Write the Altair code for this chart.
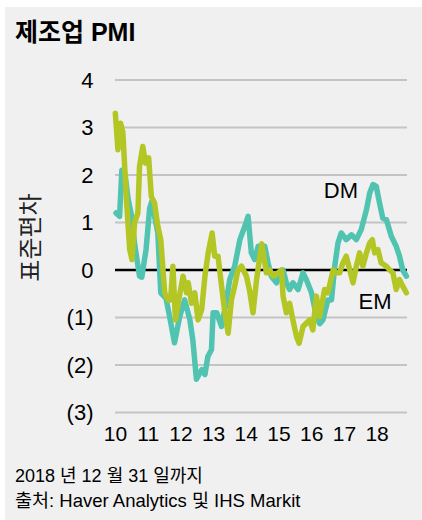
import altair as alt
import pandas as pd

# ---- data ----
dm_year = [2010.03, 2010.14, 2010.21, 2010.31, 2010.40, 2010.49, 2010.61, 2010.75, 2010.82, 2010.95,
           2011.06, 2011.13, 2011.22, 2011.31, 2011.40, 2011.56, 2011.67, 2011.82, 2011.98,
           2012.13, 2012.29, 2012.38, 2012.49, 2012.65, 2012.75, 2012.84, 2012.95,
           2013.00, 2013.11, 2013.26, 2013.41, 2013.51, 2013.66, 2013.82, 2013.97,
           2014.07, 2014.17, 2014.27, 2014.38, 2014.48, 2014.58, 2014.68, 2014.78, 2014.94,
           2015.14, 2015.24, 2015.34, 2015.44, 2015.60, 2015.75, 2015.85,
           2016.01, 2016.16, 2016.26, 2016.36, 2016.51, 2016.62, 2016.72, 2016.82, 2016.92,
           2017.07, 2017.23, 2017.38, 2017.53, 2017.69, 2017.79, 2017.89, 2017.99,
           2018.09, 2018.19, 2018.30, 2018.45, 2018.60, 2018.70, 2018.80, 2018.91]
dm_value = [1.20, 1.13, 2.10, 2.00, 1.50, 1.20, 0.50, -0.13, -0.15, 0.43,
            1.30, 1.45, 1.10, 0.78, -0.48, -0.60, -0.98, -1.53, -0.98,
            -0.63, -1.05, -1.47, -2.30, -2.10, -2.20, -1.82, -1.68,
            -0.90, -0.90, -1.19, -0.63, -0.20, 0.08, 0.64, 0.92,
            1.13, 0.36, 0.22, 0.50, 0.50, 0.50, 0.15, -0.13, -0.27,
            0.00, -0.27, -0.41, -0.27, -0.41, -0.06, -0.20,
            -0.48, -0.98, -1.13, -1.05, -0.63, -0.63, 0.08, 0.57, 0.78,
            0.64, 0.74, 0.64, 0.85, 1.27, 1.62, 1.80, 1.76,
            1.41, 1.09, 1.06, 0.71, 0.50, 0.29, 0.00, -0.13]

em_year = [2010.01, 2010.09, 2010.17, 2010.24, 2010.35, 2010.45, 2010.52, 2010.60, 2010.70, 2010.75,
           2010.85, 2010.93, 2011.03, 2011.11, 2011.21, 2011.31, 2011.40, 2011.52, 2011.62, 2011.70,
           2011.77, 2011.85, 2011.95, 2012.08, 2012.19, 2012.24, 2012.34, 2012.44, 2012.54, 2012.65,
           2012.75, 2012.85, 2012.97, 2013.05, 2013.15, 2013.26, 2013.36, 2013.46, 2013.56, 2013.66,
           2013.76, 2013.87, 2014.02, 2014.12, 2014.22, 2014.33, 2014.43, 2014.49, 2014.63, 2014.73,
           2014.83, 2014.99, 2015.09, 2015.14, 2015.24, 2015.34, 2015.44, 2015.55, 2015.63, 2015.75,
           2015.85, 2015.95, 2016.05, 2016.16, 2016.26, 2016.41, 2016.51, 2016.67, 2016.77, 2016.87,
           2016.97, 2017.07, 2017.18, 2017.28, 2017.38, 2017.48, 2017.58, 2017.69, 2017.79, 2017.87,
           2017.94, 2018.04, 2018.14, 2018.30, 2018.40, 2018.50, 2018.60, 2018.70, 2018.80, 2018.91]
em_value = [3.30, 2.53, 3.09, 2.90, 1.48, 0.43, 0.22, 1.00, 1.20, 2.18,
            2.60, 2.25, 2.36, 1.55, 1.41, 0.92, 0.64, -0.48, -0.63, -0.63,
            0.08, -1.05, -0.63, -0.13, -0.48, -0.27, -0.70, -0.48, -1.05, -0.84,
            -0.13, 0.36, 0.78, 0.29, 0.29, -0.34, -0.90, -1.33, -0.63, -0.34,
            0.00, 0.08, -0.13, -0.45, -0.90, -0.20, 0.29, 0.55, -0.06, 0.00,
            -0.13, -0.06, 0.00, -0.55, -0.90, -0.70, -1.05, -1.40, -1.54, -1.19,
            -1.12, -1.05, -1.26, -0.55, -0.98, -0.41, -0.48, 0.00, -0.06, -0.06,
            0.15, 0.29, 0.00, -0.27, 0.08, 0.36, 0.08, 0.36, 0.57, 0.64,
            0.36, 0.43, 0.15, 0.08, 0.00, -0.06, -0.41, -0.20, -0.34, -0.48]

series_names = ["DM", "EM"]
series_colors = ["#50c3b1", "#b3c624"]
x_ticks = [2010, 2011, 2012, 2013, 2014, 2015, 2016, 2017, 2018]
y_ticks = [-3, -2, -1, 0, 1, 2, 3, 4]
label_year = [2016.91, 2017.95]
label_value = [1.66, -0.68]

title_text = "제조업 PMI"
y_title = "표준편차"
footer_lines = ["2018 년 12 월 31 일까지", "출처: Haver Analytics 및 IHS Markit"]

# ---- layout ----
W, H = 292, 332.5
PAD_L, PAD_T = 115, 80
FONT = "Liberation Sans, Arial, Noto Sans CJK KR, sans-serif"
KFONT = "Noto Sans CJK KR, sans-serif"

rows = []
for name, xs, vs in [("DM", dm_year, dm_value), ("EM", em_year, em_value)]:
    for t, v in zip(xs, vs):
        rows.append({"series": name, "year": t, "value": v})
df = pd.DataFrame(rows)

x_scale = alt.Scale(domain=[2010, 2018.93], nice=False, zero=False)
y_scale = alt.Scale(domain=[-3, 4], nice=False, zero=False)

x_axis = alt.Axis(values=x_ticks, labelExpr="slice(toString(datum.value), 2)",
                  grid=False, domain=False, ticks=False, labelPadding=11,
                  labelFontSize=21, labelFont=FONT, labelColor="#000",
                  labelFlush=False, labelOverlap=False, labelBound=False,
                  title=None, zindex=1)
y_axis = alt.Axis(values=y_ticks,
                  labelExpr="datum.value < 0 ? '(' + abs(datum.value) + ')' : '' + datum.value",
                  grid=False, domain=False, ticks=False, labelOverlap=False,
                  labelPadding=22, labelFontSize=22, labelFont=FONT, labelColor="#000",
                  title=y_title, titleFont=KFONT, titleFontSize=24, titleFontWeight="normal",
                  titleColor="#222", titleAngle=270, titleX=-84, titleY=157,
                  titleAlign="center", titleBaseline="middle", zindex=1)

def X():
    return alt.X("year:Q", scale=x_scale, axis=x_axis)

def Y():
    return alt.Y("value:Q", scale=y_scale, axis=y_axis)

panel = alt.Chart(pd.DataFrame({"k": [0]})).mark_rect(color="#f0f0f0").encode(
    x=alt.value(5 - PAD_L), x2=alt.value(422 - PAD_L),
    y=alt.value(7 - PAD_T), y2=alt.value(520 - PAD_T))

grid = alt.Chart(pd.DataFrame({"value": [v for v in y_ticks if v != 0]})).mark_rule(
    color="#c4c4c4", strokeWidth=2).encode(y=Y())

zero = alt.Chart(pd.DataFrame({"value": [0]})).mark_rule(color="#000", strokeWidth=2.5).encode(y=Y())

lines = alt.Chart(df).mark_line(strokeWidth=5.5, strokeJoin="round", strokeCap="round").encode(
    x=X(), y=Y(),
    color=alt.Color("series:N", scale=alt.Scale(domain=series_names, range=series_colors), legend=None),
    detail="series:N")

labels = alt.Chart(pd.DataFrame({"series": series_names, "year": label_year, "value": label_value})).mark_text(
    font=FONT, fontSize=22, color="#000", align="center", baseline="middle").encode(
    x=X(), y=Y(), text="series:N")

title = alt.Chart(pd.DataFrame({"t": [title_text]})).mark_text(
    font=FONT, fontSize=25, fontWeight="bold", color="#000", align="left", baseline="alphabetic").encode(
    x=alt.value(15 - PAD_L), y=alt.value(41 - PAD_T), text="t:N")

footer1 = alt.Chart(pd.DataFrame({"t": [footer_lines[0]]})).mark_text(
    font=FONT, fontSize=18, color="#000", align="left", baseline="alphabetic").encode(
    x=alt.value(15 - PAD_L), y=alt.value(482 - PAD_T), text="t:N")
footer2 = alt.Chart(pd.DataFrame({"t": [footer_lines[1]]})).mark_text(
    font=FONT, fontSize=18.5, color="#000", align="left", baseline="alphabetic").encode(
    x=alt.value(15 - PAD_L), y=alt.value(507 - PAD_T), text="t:N")

chart = alt.layer(panel, grid, zero, lines, labels, title, footer1, footer2).properties(
    width=W, height=H, autosize="none",
    padding={"left": PAD_L, "top": PAD_T, "right": 422 - PAD_L - W, "bottom": 520 - PAD_T - H},
    background="#ffffff"
).configure_view(stroke=None).configure_axis(labelOverlap=False)

chart.save("out.html", embed_options={"renderer": "svg", "actions": False})
